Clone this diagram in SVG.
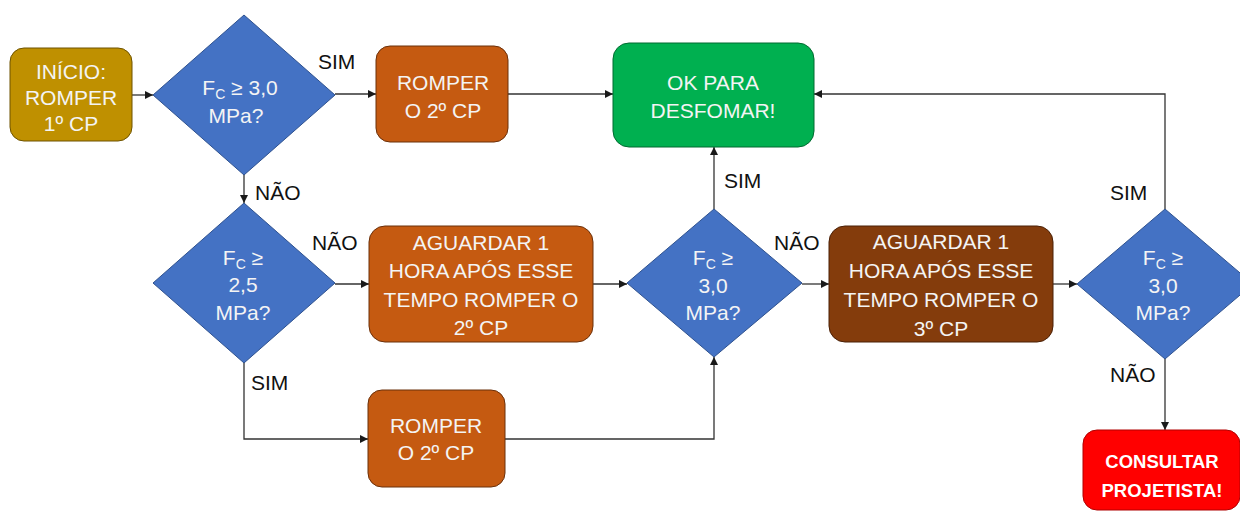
<svg xmlns="http://www.w3.org/2000/svg" width="1240" height="514" viewBox="0 0 1240 514">
<defs>
<marker id="ah" viewBox="0 0 10 10" refX="10" refY="5" markerWidth="8" markerHeight="8" markerUnits="userSpaceOnUse" orient="auto">
<path d="M0,0 L10,5 L0,10 z" fill="#1a1a1a"/>
</marker>
<style>
.t{font-family:"Liberation Sans",Arial,sans-serif;font-size:21px;fill:#f4f4f4;text-anchor:middle}
.s{font-size:14px}
.lb{font-family:"Liberation Sans",Arial,sans-serif;font-size:21px;fill:#111}
.b{font-family:"Liberation Sans",Arial,sans-serif;font-size:18.5px;font-weight:bold;fill:#fff;text-anchor:middle}
.dia{fill:#4472C4;stroke:#2F528F;stroke-width:1}
.or{fill:#C55A11;stroke:#6b300a;stroke-width:1}
.br{fill:#843C0C;stroke:#4a2006;stroke-width:1}
.cn{fill:none;stroke:#333;stroke-width:1.3;marker-end:url(#ah)}
</style>
</defs>
<rect width="1240" height="514" fill="#fff"/>
<g id="connectors">
<path class="cn" d="M132,95 H153"/>
<path class="cn" d="M335,94 H376"/>
<path class="cn" d="M508,94 H613"/>
<path class="cn" d="M244,175 V203"/>
<path class="cn" d="M335,284 H369"/>
<path class="cn" d="M244,363 V439 H368"/>
<path class="cn" d="M593,284 H627"/>
<path class="cn" d="M505,439 H714 V357"/>
<path class="cn" d="M714,209 V147"/>
<path class="cn" d="M802,284 H829"/>
<path class="cn" d="M1053,284 H1077"/>
<path class="cn" d="M1165,209 V94 H814"/>
<path class="cn" d="M1165,359 V430"/>
</g>
<g id="labels">
<text class="lb" x="318" y="69">SIM</text>
<text class="lb" x="255" y="200">NÃO</text>
<text class="lb" x="312" y="250">NÃO</text>
<text class="lb" x="251" y="390">SIM</text>
<text class="lb" x="724" y="188">SIM</text>
<text class="lb" x="774" y="250">NÃO</text>
<text class="lb" x="1110" y="200">SIM</text>
<text class="lb" x="1110" y="382">NÃO</text>
</g>
<g id="start">
<rect x="10" y="48" width="122" height="93" rx="14" fill="#BF9000" stroke="#6e5300"/>
<text class="t" x="71" y="79">INÍCIO:</text>
<text class="t" x="71" y="105">ROMPER</text>
<text class="t" x="71" y="131">1º CP</text>
</g>
<g id="dec1">
<polygon class="dia" points="244,15 335,95 244,175 153,95"/>
<text class="t" x="240" y="95">F<tspan class="s" dy="4">C</tspan><tspan dy="-4"> ≥ 3,0</tspan></text>
<text class="t" x="236" y="123">MPa?</text>
</g>
<g id="romper1">
<rect x="376" y="46" width="132" height="96" rx="14" class="or"/>
<text class="t" x="443" y="90">ROMPER</text>
<text class="t" x="443" y="118">O 2º CP</text>
</g>
<g id="ok">
<rect x="613" y="43" width="201" height="104" rx="16" fill="#00B050" stroke="#006b30"/>
<text class="t" x="713" y="90">OK PARA</text>
<text class="t" x="713" y="118">DESFOMAR!</text>
</g>
<g id="dec2">
<polygon class="dia" points="244,203 335,283 244,363 153,283"/>
<text class="t" x="243" y="265">F<tspan class="s" dy="4">C</tspan><tspan dy="-4"> ≥</tspan></text>
<text class="t" x="243" y="292">2,5</text>
<text class="t" x="243" y="320">MPa?</text>
</g>
<g id="aguardar1">
<rect x="369" y="226" width="224" height="116" rx="16" class="or"/>
<text class="t" x="481" y="250">AGUARDAR 1</text>
<text class="t" x="481" y="278">HORA APÓS ESSE</text>
<text class="t" x="481" y="307">TEMPO ROMPER O</text>
<text class="t" x="481" y="335">2º CP</text>
</g>
<g id="romper2">
<rect x="368" y="390" width="137" height="97" rx="14" class="or"/>
<text class="t" x="436" y="433">ROMPER</text>
<text class="t" x="436" y="460">O 2º CP</text>
</g>
<g id="dec3">
<polygon class="dia" points="714,209 802,283 714,357 627,283"/>
<text class="t" x="713" y="265">F<tspan class="s" dy="4">C</tspan><tspan dy="-4"> ≥</tspan></text>
<text class="t" x="713" y="293">3,0</text>
<text class="t" x="713" y="320">MPa?</text>
</g>
<g id="aguardar2">
<rect x="829" y="226" width="224" height="116" rx="16" class="br"/>
<text class="t" x="941" y="249">AGUARDAR 1</text>
<text class="t" x="941" y="278">HORA APÓS ESSE</text>
<text class="t" x="941" y="307">TEMPO ROMPER O</text>
<text class="t" x="941" y="336">3º CP</text>
</g>
<g id="dec4">
<polygon class="dia" points="1165,209 1253,284 1165,359 1077,284"/>
<text class="t" x="1163" y="265">F<tspan class="s" dy="4">C</tspan><tspan dy="-4"> ≥</tspan></text>
<text class="t" x="1163" y="293">3,0</text>
<text class="t" x="1163" y="320">MPa?</text>
</g>
<g id="consultar">
<rect x="1083" y="430" width="157" height="80" rx="14" fill="#FF0000" stroke="#b00000"/>
<text class="b" x="1162" y="468">CONSULTAR</text>
<text class="b" x="1162" y="497">PROJETISTA!</text>
</g>
</svg>
